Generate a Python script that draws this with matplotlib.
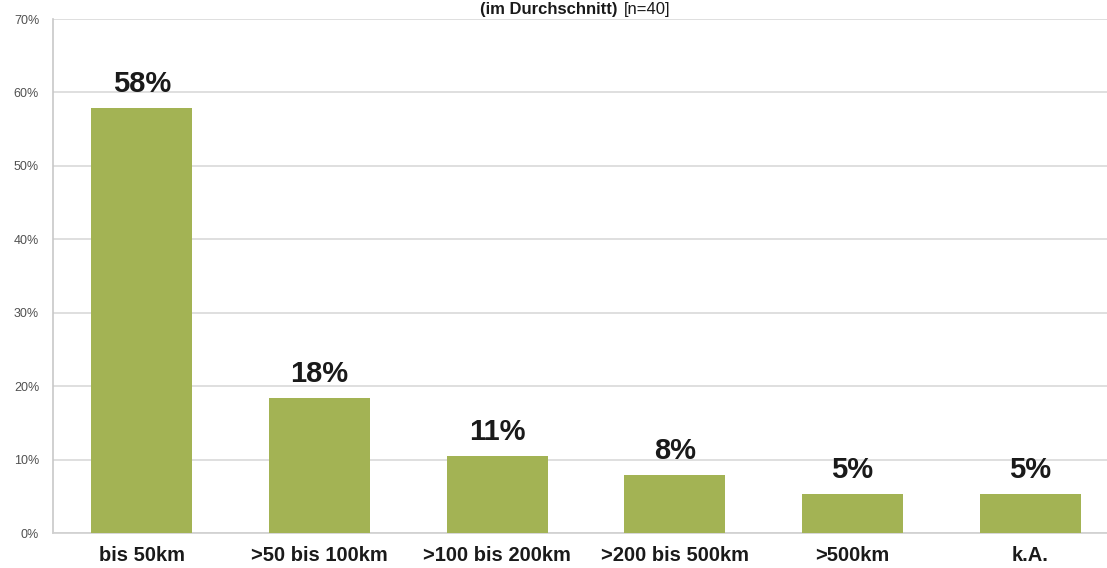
import matplotlib
matplotlib.use("Agg")
import matplotlib.pyplot as plt
from matplotlib.ticker import FuncFormatter

plt.rcParams['font.family'] = ['Liberation Sans', 'DejaVu Sans']

categories = ["bis 50km", ">50 bis 100km", ">100 bis 200km", ">200 bis 500km", ">500km", "k.A."]
shares = [57.89, 18.42, 10.53, 7.89, 5.26, 5.26]
y_ticks = [0, 10, 20, 30, 40, 50, 60, 70]

bar_color = "#A3B354"
grid_color = "#D9D9D9"

fig = plt.figure(figsize=(11.07, 5.68), dpi=100)
ax = fig.add_axes([53 / 1107, 35 / 568, 1066 / 1107, 514 / 568])

x = range(len(categories))
bars = ax.bar(x, shares, width=0.57, color=bar_color, zorder=3)

ax.set_xlim(-0.5, len(categories) - 0.5)
ax.set_ylim(0, 70)
ax.set_yticks(y_ticks)
ax.yaxis.set_major_formatter(FuncFormatter(lambda v, p: f"{v:.0f}%"))
ax.tick_params(axis='y', length=0, labelsize=9, labelcolor="#505050", pad=10)
ax.tick_params(axis='x', length=0, pad=9.5)
ax.set_xticks(list(x))
ax.set_xticklabels(categories, fontsize=14.5, fontweight='bold', color="#1a1a1a")

ax.grid(axis='y', color=grid_color, linewidth=1.2, zorder=0)
for side in ("top", "right"):
    ax.spines[side].set_visible(False)
ax.spines["left"].set_color("#C8C8C8")
ax.spines["bottom"].set_color("#D0D0D0")
ax.spines["left"].set_linewidth(1.2)
ax.spines["bottom"].set_linewidth(1.2)

for rect, val in zip(bars, shares):
    ax.annotate(f"{val:.0f}%", (rect.get_x() + rect.get_width() / 2, val),
                xytext=(0, 10), textcoords="offset pixels",
                ha="center", va="bottom", fontsize=21, fontweight="bold",
                color="#1a1a1a")

# Title in the narrow band above the plot area
fig.text(618 / 1107, 1 - 14 / 568, "(im Durchschnitt)", ha="right", va="baseline",
         fontsize=12, fontweight="bold", color="#1a1a1a")
fig.text(624 / 1107, 1 - 14 / 568, "[n=40]", ha="left", va="baseline",
         fontsize=12, color="#1a1a1a")

fig.savefig("out.png", dpi=100)
